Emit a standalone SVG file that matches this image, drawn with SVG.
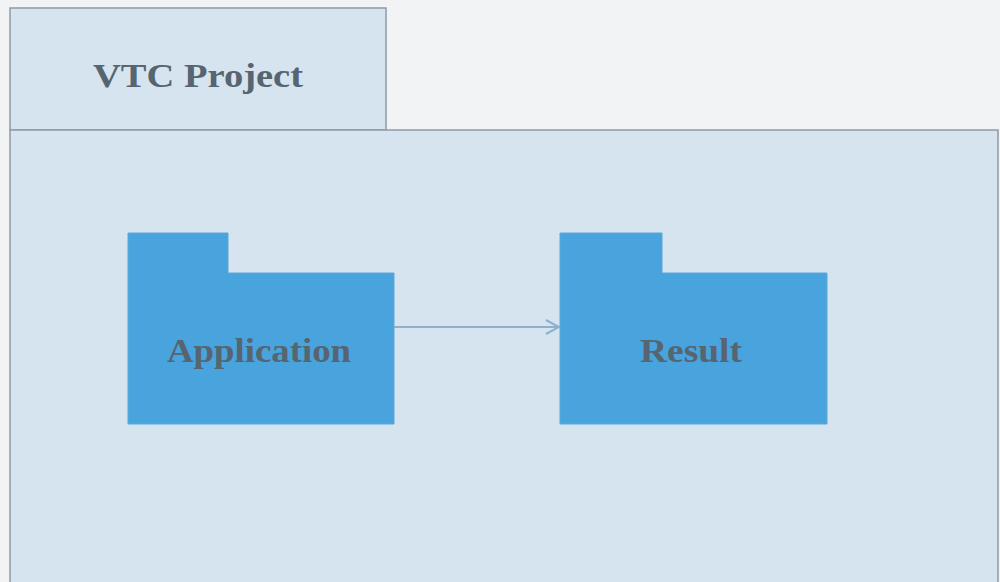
<svg xmlns="http://www.w3.org/2000/svg" width="1000" height="582" viewBox="0 0 1000 582">
<defs>
<style>
.frame{fill:#d5e4ef;stroke:#8e9aa6;stroke-width:1.5}
.pkg{fill:#49a3dc;stroke:#5aa9d8;stroke-width:1}
.lbl{font-family:"Liberation Serif",serif;font-weight:bold;font-size:33px;fill:#56656f;text-anchor:middle}
.conn{stroke:#8fb0cf;stroke-width:2;fill:none}
</style>
<marker id="open" markerWidth="16" markerHeight="16" refX="14" refY="8" orient="auto" markerUnits="userSpaceOnUse">
<path d="M1,1 L14,8 L1,15" fill="none" stroke="#8fb0cf" stroke-width="2"/>
</marker>
</defs>
<rect width="1000" height="582" fill="#f1f3f5"/>
<g id="frame">
<rect class="frame" x="10" y="8" width="376" height="122"/>
<rect class="frame" x="10" y="130" width="988" height="460"/>
<text class="lbl" x="198" y="87" textLength="210" lengthAdjust="spacingAndGlyphs">VTC Project</text>
</g>
<g id="connectors">
<line class="conn" x1="394" y1="327" x2="559" y2="327" marker-end="url(#open)"/>
</g>
<g id="application">
<path class="pkg" d="M128,233 H228 V273 H394 V424 H128 Z"/>
<text class="lbl" x="259" y="362" textLength="184" lengthAdjust="spacingAndGlyphs">Application</text>
</g>
<g id="result">
<path class="pkg" d="M560,233 H662 V273 H827 V424 H560 Z"/>
<text class="lbl" x="691" y="362" textLength="102" lengthAdjust="spacingAndGlyphs">Result</text>
</g>
</svg>
